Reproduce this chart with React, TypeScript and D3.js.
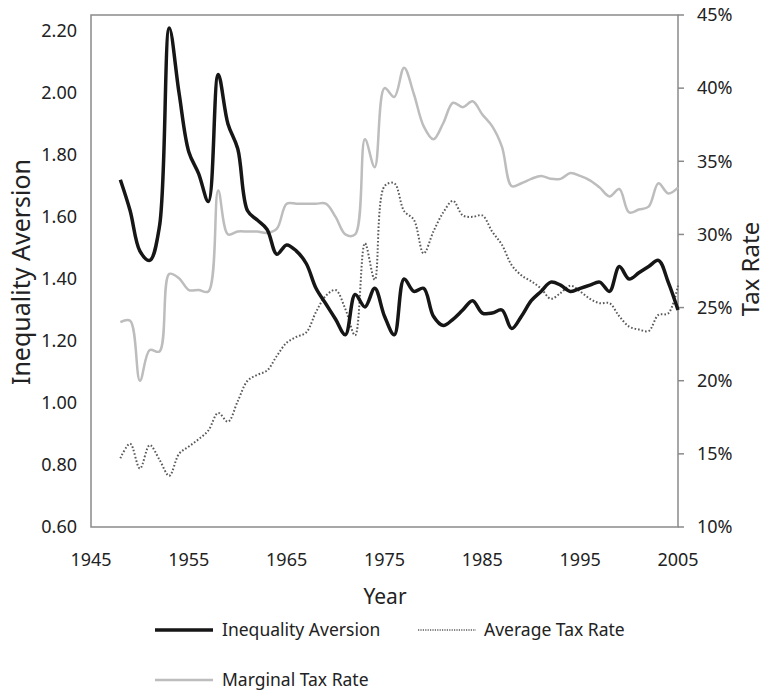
import { useEffect, useRef } from "react";
import * as d3 from "d3";

const years = [
  1948, 1949, 1950, 1951, 1952, 1953, 1954, 1955, 1956, 1957,
  1958, 1959, 1960, 1961, 1962, 1963, 1964, 1965, 1966, 1967,
  1968, 1969, 1970, 1971, 1972, 1973, 1974, 1975, 1976, 1977,
  1978, 1979, 1980, 1981, 1982, 1983, 1984, 1985, 1986, 1987,
  1988, 1989, 1990, 1991, 1992, 1993, 1994, 1995, 1996, 1997,
  1998, 1999, 2000, 2001, 2002, 2003, 2004, 2005,
];

const inequalityAversion = [
  1.72, 1.62, 1.49, 1.46, 1.57, 2.21, 2.0, 1.81, 1.74, 1.65,
  2.06, 1.9, 1.82, 1.62, 1.59, 1.56, 1.48, 1.51, 1.49, 1.45,
  1.37, 1.32, 1.27, 1.22, 1.35, 1.31, 1.37, 1.28, 1.22, 1.4,
  1.36, 1.37, 1.28, 1.25, 1.27, 1.3, 1.33, 1.29, 1.29, 1.3,
  1.24, 1.28, 1.33, 1.36, 1.39, 1.38, 1.36, 1.37, 1.38, 1.39,
  1.36, 1.44, 1.4, 1.42, 1.44, 1.46, 1.39, 1.3,
];

const averageTaxRate = [
  14.7, 15.7, 14.0, 15.6, 14.6, 13.5, 15.0, 15.5, 16.0, 16.6,
  17.8, 17.2, 18.6, 20.0, 20.4, 20.7, 21.7, 22.6, 23.0, 23.3,
  24.7, 25.8, 26.2, 24.9, 23.1, 29.4, 26.9, 33.3, 33.5, 31.6,
  31.0, 28.7, 30.2, 31.5, 32.3, 31.3, 31.2, 31.3, 30.2, 29.3,
  27.9, 27.2, 26.8, 26.3, 25.6, 26.0, 26.5, 26.1, 25.6, 25.3,
  25.3, 24.4, 23.7, 23.5, 23.4, 24.5, 24.6, 26.5,
];

const marginalTaxRate = [
  24.0, 24.1, 20.0, 22.1, 22.0, 27.3, 27.0, 26.2, 26.2, 26.1,
  33.0, 30.0, 30.2, 30.2, 30.2, 30.1, 30.4, 32.1, 32.1, 32.1,
  32.1, 32.1, 31.2, 30.0, 30.0, 36.5, 34.6, 40.0, 39.4, 41.4,
  39.6, 37.4, 36.5, 37.6, 39.0, 38.7, 39.1, 38.2, 37.4, 36.0,
  33.3, 33.5, 33.8, 34.0, 33.8, 33.8, 34.2, 34.0, 33.7, 33.2,
  32.6, 33.1, 31.5, 31.7, 31.9, 33.5, 32.8, 33.2,
];

const xTicks = [1945, 1955, 1965, 1975, 1985, 1995, 2005];
const leftTicks = [0.6, 0.8, 1.0, 1.2, 1.4, 1.6, 1.8, 2.0, 2.2];
const rightTicks = [10, 15, 20, 25, 30, 35, 40, 45];

const FONT = "'Noto Sans', 'Open Sans', sans-serif";

const App = () => {
  const ref = useRef<SVGSVGElement>(null);

  useEffect(() => {
    if (!ref.current) return;
    const svg = d3.select(ref.current);
    svg.selectAll("*").remove();

    const left = 91, right = 678, top = 15, bottom = 527;

    const x = d3.scaleLinear().domain([1945, 2005]).range([left, right]);
    const yL = d3.scaleLinear().domain([0.6, 2.2]).range([bottom, 31]);
    const yR = d3.scaleLinear().domain([10, 45]).range([bottom, top]);

    // frame
    svg.append("rect")
      .attr("x", left).attr("y", top)
      .attr("width", right - left).attr("height", bottom - top)
      .attr("fill", "none").attr("stroke", "#8a8a8a").attr("stroke-width", 1.5);

    // left tick labels
    svg.append("g").selectAll("text").data(leftTicks).join("text")
      .attr("x", 77).attr("y", d => yL(d))
      .attr("dy", "0.35em").attr("text-anchor", "end")
      .attr("font-family", FONT).attr("font-size", 18).attr("fill", "#222")
      .text(d => d.toFixed(2));

    // right axis ticks + labels
    svg.append("g").selectAll("line").data(rightTicks).join("line")
      .attr("x1", right).attr("x2", right + 6)
      .attr("y1", d => yR(d)).attr("y2", d => yR(d))
      .attr("stroke", "#8a8a8a").attr("stroke-width", 1.5);
    svg.append("g").selectAll("text").data(rightTicks).join("text")
      .attr("x", 697).attr("y", d => yR(d))
      .attr("dy", "0.35em")
      .attr("font-family", FONT).attr("font-size", 18).attr("fill", "#222")
      .text(d => `${d}%`);

    // x tick labels
    svg.append("g").selectAll("text").data(xTicks).join("text")
      .attr("x", d => x(d)).attr("y", 560)
      .attr("dy", "0.35em").attr("text-anchor", "middle")
      .attr("font-family", FONT).attr("font-size", 18).attr("fill", "#222")
      .text(d => d);

    // axis titles
    svg.append("text")
      .attr("transform", `translate(21,272) rotate(-90)`)
      .attr("text-anchor", "middle").attr("dy", "0.35em")
      .attr("font-family", FONT).attr("font-size", 25)
      .attr("fill", "#222").text("Inequality Aversion");
    svg.append("text")
      .attr("transform", `translate(751,269) rotate(-90)`)
      .attr("text-anchor", "middle").attr("dy", "0.35em")
      .attr("font-family", FONT).attr("font-size", 24)
      .attr("fill", "#222").text("Tax Rate");
    svg.append("text")
      .attr("x", 385).attr("y", 597).attr("dy", "0.35em")
      .attr("text-anchor", "middle")
      .attr("font-family", FONT).attr("font-size", 21)
      .attr("fill", "#222").text("Year");

    const curve = d3.curveCatmullRom.alpha(0.5);

    const lineL = d3.line<number>()
      .x((_, i) => x(years[i]))
      .y(d => yL(d))
      .curve(curve);
    const lineR = d3.line<number>()
      .x((_, i) => x(years[i]))
      .y(d => yR(d))
      .curve(curve);

    svg.append("path").datum(marginalTaxRate)
      .attr("fill", "none").attr("stroke", "#bdbdbd").attr("stroke-width", 2.5)
      .attr("d", lineR);

    svg.append("path").datum(averageTaxRate)
      .attr("fill", "none").attr("stroke", "#5a5a5a").attr("stroke-width", 2)
      .attr("stroke-dasharray", "1.6 2")
      .attr("d", lineR);

    svg.append("path").datum(inequalityAversion)
      .attr("fill", "none").attr("stroke", "#161616").attr("stroke-width", 3.5)
      .attr("stroke-linejoin", "round")
      .attr("d", lineL);

    // legend
    const legend = [
      { label: "Inequality Aversion", x: 155, y: 630, stroke: "#161616", w: 3.5, dash: null },
      { label: "Average Tax Rate", x: 418, y: 630, stroke: "#5a5a5a", w: 1.5, dash: "1.2 1.2" },
      { label: "Marginal Tax Rate", x: 155, y: 680, stroke: "#bdbdbd", w: 2.5, dash: null },
    ];
    const lg = svg.append("g").selectAll("g").data(legend).join("g")
      .attr("transform", d => `translate(${d.x},${d.y})`);
    lg.append("line")
      .attr("x1", 0).attr("x2", 58).attr("y1", 0).attr("y2", 0)
      .attr("stroke", d => d.stroke).attr("stroke-width", d => d.w)
      .attr("stroke-dasharray", d => d.dash);
    lg.append("text")
      .attr("x", d => (d.dash ? 66 : 67)).attr("y", 0).attr("dy", "0.35em")
      .attr("font-family", FONT).attr("font-size", 17.5).attr("fill", "#222")
      .text(d => d.label);
  }, []);

  return (
    <div style={{ position: "absolute", left: 0, top: 0 }}>
      <svg ref={ref} width={766} height={692} style={{ display: "block" }} />
    </div>
  );
};

export default App;
